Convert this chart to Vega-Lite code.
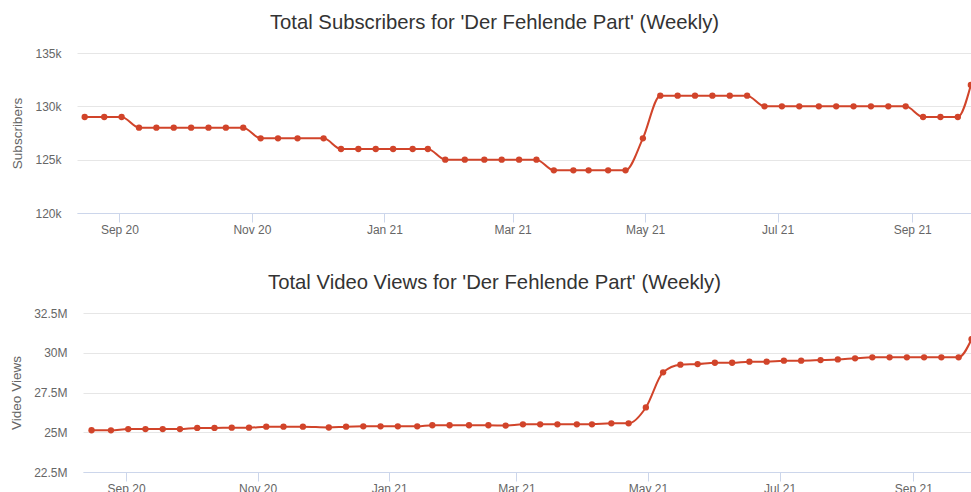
{
  "$schema": "https://vega.github.io/schema/vega-lite/v6.json",
  "padding": {"left": 9, "top": 12, "right": 0, "bottom": 0},
  "background": "#ffffff",
  "config": {
    "view": {"stroke": null},
    "font": "Liberation Sans",
    "title": {"font": "Liberation Sans", "fontSize": 20.3, "fontWeight": "normal", "color": "#333333", "anchor": "middle", "offset": 14},
    "axisX": {"domainColor": "#ccd6eb", "tickColor": "#ccd6eb", "tickSize": 9, "grid": false, "labelColor": "#666666", "labelFontSize": 12, "labelFont": "Liberation Sans", "labelPadding": 2, "title": null},
    "axisY": {"domain": false, "ticks": false, "tickSize": 0, "gridColor": "#e6e6e6", "labelColor": "#666666", "labelFontSize": 12, "labelFont": "Liberation Sans", "labelPadding": 16, "titleColor": "#666666", "titleFontSize": 13.5, "titleFontWeight": "normal", "titleFont": "Liberation Sans", "titlePadding": 10}
  },
  "datasets": {
    "weekly": [
      {"date": "2020-08-16", "subscribers": 129000, "views": 25125000},
      {"date": "2020-08-25", "subscribers": 129000, "views": 25120000},
      {"date": "2020-09-02", "subscribers": 129000, "views": 25200000},
      {"date": "2020-09-10", "subscribers": 128000, "views": 25200000},
      {"date": "2020-09-18", "subscribers": 128000, "views": 25200000},
      {"date": "2020-09-26", "subscribers": 128000, "views": 25200000},
      {"date": "2020-10-04", "subscribers": 128000, "views": 25270000},
      {"date": "2020-10-12", "subscribers": 128000, "views": 25270000},
      {"date": "2020-10-20", "subscribers": 128000, "views": 25290000},
      {"date": "2020-10-28", "subscribers": 128000, "views": 25290000},
      {"date": "2020-11-05", "subscribers": 127000, "views": 25350000},
      {"date": "2020-11-13", "subscribers": 127000, "views": 25350000},
      {"date": "2020-11-22", "subscribers": 127000, "views": 25350000},
      {"date": "2020-12-04", "subscribers": 127000, "views": 25300000},
      {"date": "2020-12-12", "subscribers": 126000, "views": 25350000},
      {"date": "2020-12-20", "subscribers": 126000, "views": 25370000},
      {"date": "2020-12-28", "subscribers": 126000, "views": 25370000},
      {"date": "2021-01-05", "subscribers": 126000, "views": 25370000},
      {"date": "2021-01-14", "subscribers": 126000, "views": 25370000},
      {"date": "2021-01-21", "subscribers": 126000, "views": 25440000},
      {"date": "2021-01-29", "subscribers": 125000, "views": 25440000},
      {"date": "2021-02-07", "subscribers": 125000, "views": 25440000},
      {"date": "2021-02-16", "subscribers": 125000, "views": 25440000},
      {"date": "2021-02-24", "subscribers": 125000, "views": 25420000},
      {"date": "2021-03-04", "subscribers": 125000, "views": 25500000},
      {"date": "2021-03-12", "subscribers": 125000, "views": 25500000},
      {"date": "2021-03-20", "subscribers": 124000, "views": 25500000},
      {"date": "2021-03-29", "subscribers": 124000, "views": 25500000},
      {"date": "2021-04-05", "subscribers": 124000, "views": 25500000},
      {"date": "2021-04-14", "subscribers": 124000, "views": 25560000},
      {"date": "2021-04-22", "subscribers": 124000, "views": 25560000},
      {"date": "2021-04-30", "subscribers": 127000, "views": 26560000},
      {"date": "2021-05-08", "subscribers": 131000, "views": 28770000},
      {"date": "2021-05-16", "subscribers": 131000, "views": 29250000},
      {"date": "2021-05-24", "subscribers": 131000, "views": 29290000},
      {"date": "2021-06-01", "subscribers": 131000, "views": 29370000},
      {"date": "2021-06-09", "subscribers": 131000, "views": 29370000},
      {"date": "2021-06-17", "subscribers": 131000, "views": 29440000},
      {"date": "2021-06-25", "subscribers": 130000, "views": 29440000},
      {"date": "2021-07-03", "subscribers": 130000, "views": 29500000},
      {"date": "2021-07-11", "subscribers": 130000, "views": 29500000},
      {"date": "2021-07-20", "subscribers": 130000, "views": 29540000},
      {"date": "2021-07-28", "subscribers": 130000, "views": 29580000},
      {"date": "2021-08-05", "subscribers": 130000, "views": 29650000},
      {"date": "2021-08-13", "subscribers": 130000, "views": 29710000},
      {"date": "2021-08-21", "subscribers": 130000, "views": 29710000},
      {"date": "2021-08-29", "subscribers": 130000, "views": 29710000},
      {"date": "2021-09-06", "subscribers": 129000, "views": 29710000},
      {"date": "2021-09-14", "subscribers": 129000, "views": 29710000},
      {"date": "2021-09-22", "subscribers": 129000, "views": 29710000},
      {"date": "2021-09-28", "subscribers": 132000, "views": 30850000}
    ]
  },
  "columns": 1,
  "center": true,
  "spacing": 37,
  "concat": [
    {
      "title": {"text": "Total Subscribers for 'Der Fehlende Part' (Weekly)", "dx": -33},
      "width": 901,
      "height": 160,
      "data": {"name": "weekly"},
      "encoding": {
        "x": {"field": "date", "type": "temporal",
          "scale": {"type": "utc", "domain": [{"year": 2020, "month": 8, "date": 12, "hours": 11, "utc": true}, {"year": 2021, "month": 10, "date": 1, "hours": 7, "utc": true}]},
          "axis": {"format": "%b %y", "values": [
            {"year": 2020, "month": 9, "date": 1, "utc": true},
            {"year": 2020, "month": 11, "date": 1, "utc": true},
            {"year": 2021, "month": 1, "date": 1, "utc": true},
            {"year": 2021, "month": 3, "date": 1, "utc": true},
            {"year": 2021, "month": 5, "date": 1, "utc": true},
            {"year": 2021, "month": 7, "date": 1, "utc": true},
            {"year": 2021, "month": 9, "date": 1, "utc": true}]}},
        "y": {"field": "subscribers", "type": "quantitative", "title": "Subscribers",
          "scale": {"domain": [120000, 135000], "nice": false, "zero": false},
          "axis": {"values": [120000, 125000, 130000, 135000], "format": ".3~s"}}
      },
      "layer": [
        {"mark": {"type": "line", "interpolate": "monotone", "color": "#d1442a", "strokeWidth": 2, "clip": true}},
        {"mark": {"type": "point", "filled": true, "opacity": 1, "size": 40, "color": "#d1442a", "clip": true}}
      ]
    },
    {
      "title": {"text": "Total Video Views for 'Der Fehlende Part' (Weekly)", "dx": -33},
      "width": 889,
      "height": 159,
      "data": {"name": "weekly"},
      "encoding": {
        "x": {"field": "date", "type": "temporal",
          "scale": {"type": "utc", "domain": [{"year": 2020, "month": 8, "date": 12, "hours": 1, "utc": true}, {"year": 2021, "month": 9, "date": 28, "hours": 5, "utc": true}]},
          "axis": {"format": "%b %y", "values": [
            {"year": 2020, "month": 9, "date": 1, "utc": true},
            {"year": 2020, "month": 11, "date": 1, "utc": true},
            {"year": 2021, "month": 1, "date": 1, "utc": true},
            {"year": 2021, "month": 3, "date": 1, "utc": true},
            {"year": 2021, "month": 5, "date": 1, "utc": true},
            {"year": 2021, "month": 7, "date": 1, "utc": true},
            {"year": 2021, "month": 9, "date": 1, "utc": true}]}},
        "y": {"field": "views", "type": "quantitative", "title": "Video Views",
          "scale": {"domain": [22500000, 32500000], "nice": false, "zero": false},
          "axis": {"values": [22500000, 25000000, 27500000, 30000000, 32500000], "format": ".3~s"}}
      },
      "layer": [
        {"mark": {"type": "line", "interpolate": "monotone", "color": "#d1442a", "strokeWidth": 2, "clip": true}},
        {"mark": {"type": "point", "filled": true, "opacity": 1, "size": 40, "color": "#d1442a", "clip": true}}
      ]
    }
  ]
}
